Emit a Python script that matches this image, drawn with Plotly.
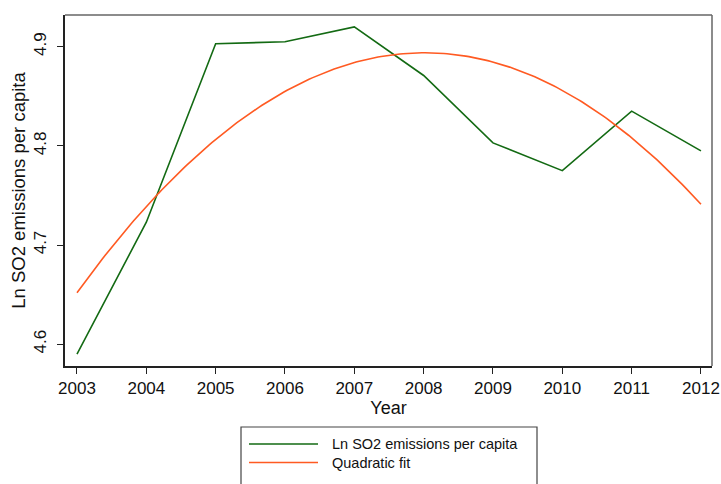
import numpy as np
import plotly.graph_objects as go

years = [2003, 2004, 2005, 2006, 2007, 2008, 2009, 2010, 2011, 2012]
ln_so2 = [4.590, 4.723, 4.903, 4.905, 4.920, 4.871, 4.803, 4.775, 4.835, 4.795]
y_ticks = [4.6, 4.7, 4.8, 4.9]
series_names = ["Ln SO2 emissions per capita", "Quadratic fit"]

GREEN = "#136a13"
ORANGE = "#ff5a22"
FONT = "Liberation Sans, Arial, sans-serif"

# quadratic fit of the series (as Stata's qfit)
coef = np.polyfit(years, ln_so2, 2)
xf = np.linspace(years[0], years[-1], 200)
yf = np.polyval(coef, xf)

fig = go.Figure()
fig.add_trace(go.Scatter(x=years, y=ln_so2, mode="lines", name=series_names[0],
                         line=dict(color=GREEN, width=1.6), showlegend=False))
fig.add_trace(go.Scatter(x=xf, y=yf, mode="lines", name=series_names[1],
                         line=dict(color=ORANGE, width=1.6), showlegend=False))

fig.update_layout(
    width=721, height=484,
    margin=dict(l=65, r=9, t=15, b=118),
    paper_bgcolor="white", plot_bgcolor="white",
    font=dict(family=FONT, size=17, color="#111"),
    xaxis=dict(range=[2002.827, 2012.159], tickmode="array", tickvals=years,
               ticks="outside", ticklen=6, tickcolor="#222", showgrid=False,
               zeroline=False, showline=True, linecolor="#222", linewidth=1.5,
               tickfont=dict(size=17), automargin=False,
               title=dict(text="Year", standoff=2, font=dict(size=18))),
    yaxis=dict(range=[4.578, 4.932], tickmode="array", tickvals=y_ticks,
               ticktext=[f"{v:.1f}" for v in y_ticks], tickangle=-90,
               ticks="outside", ticklen=6, tickcolor="#222", showgrid=False,
               zeroline=False, showline=True, linecolor="#222", linewidth=1.5,
               tickfont=dict(size=17), ticklabelstandoff=4, automargin=False,
               title=dict(text="Ln SO2 emissions per capita", standoff=1,
                          font=dict(size=18.5))),
)

# frame top/right
fig.add_shape(type="line", xref="paper", yref="paper", x0=0, x1=1, y0=1, y1=1,
              line=dict(color="#666", width=1.5))
fig.add_shape(type="line", xref="paper", yref="paper", x0=1, x1=1, y0=0, y1=1,
              line=dict(color="#666", width=1.5))

# legend (drawn manually, Stata style); positions in pixels
W, H, L, T = 647.0, 351.0, 65.0, 15.0
def px(x):
    return (x - L) / W
def py(y):
    return (T + H - y) / H

fig.add_shape(type="rect", xref="paper", yref="paper",
              x0=px(241), x1=px(537), y0=py(427), y1=py(495),
              line=dict(color="#444", width=1.2), fillcolor="white")
for i, (name, col) in enumerate(zip(series_names, [GREEN, ORANGE])):
    yy = 444 + i * 18.5
    fig.add_shape(type="line", xref="paper", yref="paper",
                  x0=px(249), x1=px(318), y0=py(yy), y1=py(yy),
                  line=dict(color=col, width=1.6))
    fig.add_annotation(xref="paper", yref="paper", x=px(330), y=py(yy),
                       text=name, showarrow=False, xanchor="left", yanchor="middle",
                       font=dict(size=14.5, family=FONT, color="#111"))

fig.write_html("out.html", config={"displayModeBar": False},
               post_script="document.body.style.margin='0';document.body.style.overflow='hidden';")
